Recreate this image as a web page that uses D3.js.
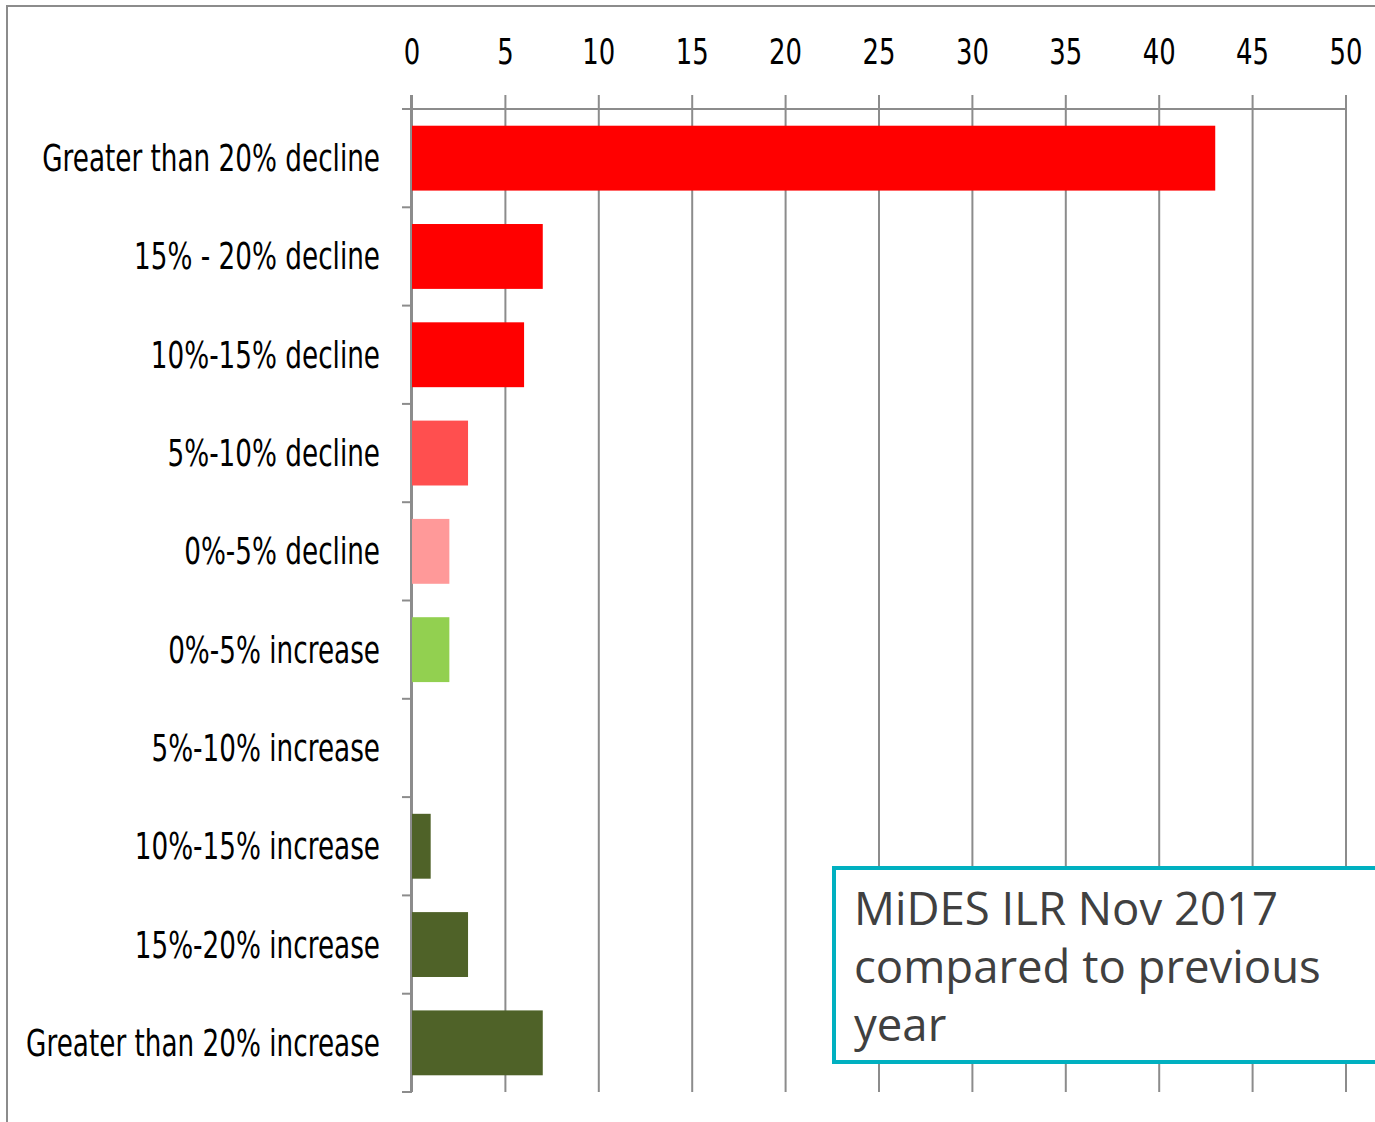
<!DOCTYPE html>
<html>
<head>
<meta charset="utf-8">
<script src="https://cdn.jsdelivr.net/npm/d3@7"></script>
<style>
  html, body { margin: 0; padding: 0; background: #fff; }
  svg { display: block; }
</style>
</head>
<body>
<div id="chart"></div>
<script>
  var categories = [
    "Greater than 20% decline",
    "15% - 20% decline",
    "10%-15% decline",
    "5%-10% decline",
    "0%-5% decline",
    "0%-5% increase",
    "5%-10% increase",
    "10%-15% increase",
    "15%-20% increase",
    "Greater than 20% increase"
  ];
  var values = [43, 7, 6, 3, 2, 2, 0, 1, 3, 7];
  var barColors = ["#ff0000", "#ff0000", "#ff0000", "#ff4f4f", "#ff9999",
                   "#92d050", "#92d050", "#4f6228", "#4f6228", "#4f6228"];
  var tickValues = [0, 5, 10, 15, 20, 25, 30, 35, 40, 45, 50];
  var noteLines = ["MiDES ILR Nov 2017", "compared to previous", "year"];

  (function () {
    "use strict";
    var W = 1375, H = 1122;
    var plotLeft = 412, plotRight = 1346, plotTop = 109, plotBottom = 1092;
    var labelFont = "'DejaVu Sans', sans-serif";

    var svg = d3.select("#chart").append("svg")
      .attr("width", W).attr("height", H);

    // outer frame
    svg.append("rect").attr("x", 7).attr("y", 6)
      .attr("width", W + 20).attr("height", H + 20)
      .attr("fill", "#fff").attr("stroke", "#8c8c8c").attr("stroke-width", 2);

    var x = d3.scaleLinear().domain([0, 50]).range([plotLeft, plotRight]);
    var y = d3.scaleBand().domain(categories).range([plotTop, plotBottom])
      .paddingInner(0.34).paddingOuter(0.17);

    // gridlines
    svg.append("g").selectAll("line").data(tickValues).enter().append("line")
      .attr("x1", function (d) { return x(d); })
      .attr("x2", function (d) { return x(d); })
      .attr("y1", plotTop - 14).attr("y2", plotBottom)
      .attr("stroke", "#8c8c8c").attr("stroke-width", 2);

    // top axis line
    svg.append("line").attr("x1", plotLeft).attr("x2", plotRight)
      .attr("y1", plotTop).attr("y2", plotTop)
      .attr("stroke", "#8c8c8c").attr("stroke-width", 2);

    // tick labels (condensed, no narrow font installed)
    svg.append("g").selectAll("text").data(tickValues).enter().append("text")
      .attr("transform", function (d) { return "translate(" + x(d) + ",64) scale(0.72,1)"; })
      .attr("text-anchor", "middle")
      .attr("font-family", labelFont)
      .attr("font-size", 36)
      .attr("fill", "#000")
      .text(function (d) { return d; });

    // bars
    svg.append("g").selectAll("rect").data(values).enter().append("rect")
      .attr("x", x(0))
      .attr("y", function (d, i) { return y(categories[i]); })
      .attr("width", function (d) { return x(d) - x(0); })
      .attr("height", y.bandwidth())
      .attr("fill", function (d, i) { return barColors[i]; });

    // left axis with band boundary ticks
    var step = y.step();
    var bounds = d3.range(categories.length + 1).map(function (i) { return plotTop + i * step; });
    svg.append("line").attr("x1", plotLeft - 1).attr("x2", plotLeft - 1)
      .attr("y1", plotTop - 14).attr("y2", plotBottom)
      .attr("stroke", "#8c8c8c").attr("stroke-width", 2);
    svg.append("g").selectAll("line").data(bounds).enter().append("line")
      .attr("x1", plotLeft - 10).attr("x2", plotLeft)
      .attr("y1", function (d) { return d; }).attr("y2", function (d) { return d; })
      .attr("stroke", "#8c8c8c").attr("stroke-width", 2);

    // category labels
    svg.append("g").selectAll("text").data(categories).enter().append("text")
      .attr("transform", function (d) {
        return "translate(380," + (y(d) + y.bandwidth() / 2 + 13) + ") scale(0.71,1)";
      })
      .attr("text-anchor", "end")
      .attr("font-family", labelFont)
      .attr("font-size", 37)
      .attr("fill", "#000")
      .text(function (d) { return d; });

    // note box
    svg.append("rect").attr("x", 834).attr("y", 868)
      .attr("width", 600).attr("height", 194)
      .attr("fill", "#fff").attr("stroke", "#00b0c0").attr("stroke-width", 4);
    svg.append("g").selectAll("text").data(noteLines).enter().append("text")
      .attr("x", 854)
      .attr("y", function (d, i) { return 925 + i * 58; })
      .attr("font-family", "'Open Sans', 'Noto Sans', sans-serif")
      .attr("font-size", 45.5)
      .attr("fill", "#404040")
      .text(function (d) { return d; });
  }());
</script>
</body>
</html>
